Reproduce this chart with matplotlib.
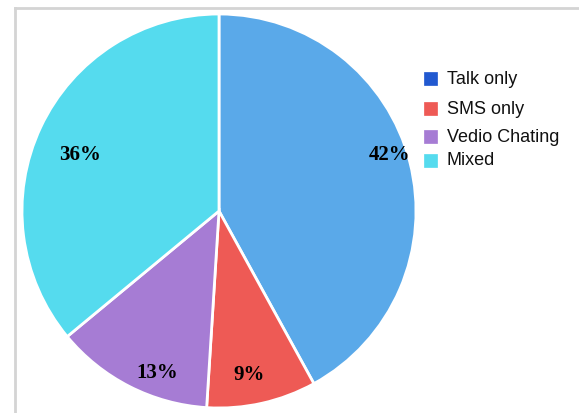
import matplotlib
matplotlib.use('Agg')
import matplotlib.pyplot as plt
from matplotlib.lines import Line2D
from matplotlib.patches import Rectangle
import numpy as np

# data
labels = ['Talk only', 'SMS only', 'Vedio Chating', 'Mixed']
shares = [42, 9, 13, 36]
slice_colors = ['#5aa9e9', '#ee5a55', '#a67cd4', '#55dbee']
legend_colors = ['#2159d0', '#ee5a55', '#a67cd4', '#55dbee']

W, H = 579, 414
fig = plt.figure(figsize=(W/100, H/100), dpi=100)

# pie axes (center ~ (219,212) px, radius ~197 px)
cx, cy, r = 219, 212, 197
ax = fig.add_axes([(cx-r)/W, (H-cy-r)/H, 2*r/W, 2*r/H])
wedges, _ = ax.pie(shares, colors=slice_colors, startangle=90, counterclock=False,
                   radius=1, wedgeprops=dict(edgecolor='white', linewidth=2))
ax.set_xlim(-1, 1)
ax.set_ylim(-1, 1)
ax.set_aspect('equal')
ax.axis('off')

# percentage labels, radius tuned per slice
lab_r = [0.91, 0.84, 0.875, 0.76]
lab_shift = [4, -2, 6, 3]
for w, s, rr, sh in zip(wedges, shares, lab_r, lab_shift):
  ang = np.deg2rad((w.theta1 + w.theta2) / 2 + sh)
  ax.text(rr*np.cos(ang), rr*np.sin(ang), '{}%'.format(s), ha='center', va='center',
          fontsize=15, fontweight='bold', family='Liberation Serif', color='black')

# frame (top + left edges)
fig.add_artist(Line2D([15/W, 1], [1-9/H, 1-9/H], color='#d4d4d4', lw=2))
fig.add_artist(Line2D([15/W, 15/W], [0, 1-9/H], color='#d4d4d4', lw=2))

# legend drawn by hand (uneven spacing in the reference)
leg_y = [79, 109.5, 137, 161]
for lab, col, y in zip(labels, legend_colors, leg_y):
  fig.add_artist(Rectangle((424/W, 1-(y+6.5)/H), 13/W, 13/H, facecolor=col,
                           edgecolor=col, lw=0.5, transform=fig.transFigure))
  fig.text(447/W, 1-y/H, lab, ha='left', va='center', fontsize=13,
           family='Liberation Sans', color='#111111')

fig.savefig('out.png', dpi=100)
